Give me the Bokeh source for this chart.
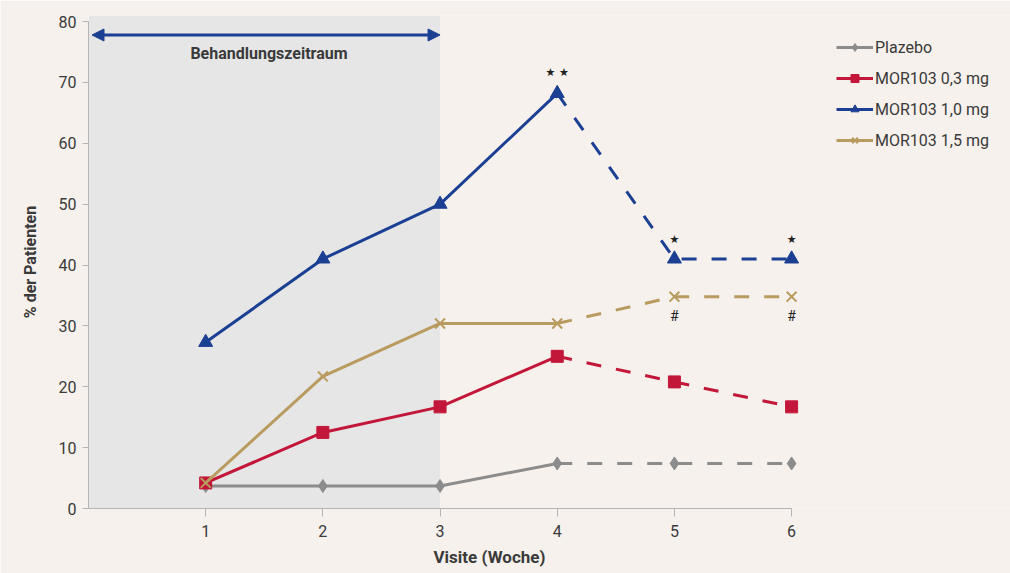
from bokeh.plotting import figure
from bokeh.models import (Range1d, BoxAnnotation, Arrow, NormalHead, Label, Legend,
                          LegendItem, FixedTicker, Title)
from bokeh.core.properties import value
from bokeh.embed import file_html
from bokeh.resources import INLINE

# ---- data ----
visits = [1, 2, 3, 4, 5, 6]
placebo = [3.7, 3.7, 3.7, 7.4, 7.4, 7.4]
mor_03 = [4.2, 12.5, 16.7, 25.0, 20.8, 16.7]
mor_10 = [27.3, 41.0, 50.0, 68.2, 41.0, 41.0]
mor_15 = [4.2, 21.7, 30.4, 30.4, 34.8, 34.8]
series_names = ["Plazebo", "MOR103 0,3 mg", "MOR103 1,0 mg", "MOR103 1,5 mg"]
treatment_start = 0
treatment_end = 3
treatment_label = "Behandlungszeitraum"
y_ticks = [0, 10, 20, 30, 40, 50, 60, 70, 80]
x_ticks = [1, 2, 3, 4, 5, 6]
star_x = [4, 5, 6]
star_y = [71.6, 44.2, 44.2]
star_text = ["★ ★", "★", "★"]
hash_x = [5, 6]
hash_y = [31.6, 31.6]
hash_text = ["#", "#"]

FONT = "Roboto"
BG = "#f6f1ec"
TXT = "#3a3a3a"

p = figure(width=1010, height=573, x_range=Range1d(0, 7.868), y_range=Range1d(0, 81),
           output_backend="svg", toolbar_location=None,
           min_border_left=88, min_border_right=0, min_border_top=15, min_border_bottom=65)
p.background_fill_color = BG
p.border_fill_color = BG
p.outline_line_color = None
p.xgrid.visible = False
p.ygrid.visible = False

# shaded treatment period
p.add_layout(BoxAnnotation(left=treatment_start, right=treatment_end, bottom=0, top=81,
                           fill_color="#e6e6e6", fill_alpha=1.0, line_color=None, level="underlay"))

# axes
for ax in p.yaxis:
    ax.bounds = (0, 80)
    ax.ticker = FixedTicker(ticks=y_ticks)
    ax.axis_line_color = "#b5b5b5"
    ax.major_tick_line_color = "#b5b5b5"
    ax.major_tick_out = 6
    ax.major_tick_in = 0
    ax.minor_tick_line_color = None
    ax.major_label_text_font = FONT
    ax.major_label_text_font_size = "16px"
    ax.major_label_text_color = TXT
    ax.major_label_standoff = 6
    ax.axis_label = "% der Patienten"
    ax.axis_label_text_font = FONT
    ax.axis_label_text_font_size = "16px"
    ax.axis_label_text_font_style = "bold"
    ax.axis_label_text_color = TXT
    ax.axis_label_standoff = 16

for ax in p.xaxis:
    ax.bounds = (0, 6)
    ax.ticker = FixedTicker(ticks=x_ticks)
    ax.axis_line_color = "#b5b5b5"
    ax.major_tick_line_color = "#b5b5b5"
    ax.major_tick_out = 8
    ax.major_tick_in = 0
    ax.minor_tick_line_color = None
    ax.major_label_text_font = FONT
    ax.major_label_text_font_size = "16px"
    ax.major_label_text_color = TXT
    ax.major_label_standoff = 8

# x axis label (as a left-aligned title below, offset to sit where the reference has it)
p.add_layout(Title(text="Visite (Woche)", align="left", offset=345, text_font=FONT,
                   text_font_size="17px", text_font_style="bold", text_color=TXT,
                   standoff=10), "below")

# series
styles = [
    (placebo, "#8c8c8c", "diamond", 13),
    (mor_03, "#c3173a", "square", 12),
    (mor_10, "#1b3f93", "triangle", 14),
    (mor_15, "#b99b5f", "x", 14),
]
items = []
for name, (vals, col, marker, size) in zip(series_names, styles):
    solid = p.line(visits[:4], vals[:4], line_color=col, line_width=3)
    dashed = p.line(visits[3:], vals[3:], line_color=col, line_width=3, line_dash="15 15")
    sc = p.scatter(visits, vals, marker=marker, size=size, fill_color=col, line_color=col,
                   line_width=2 if marker == "x" else 1)
    items.append(LegendItem(label=name, renderers=[solid, sc]))

legend = Legend(items=items, location=(748, 358), orientation="vertical",
                label_text_font=FONT, label_text_font_size="16px", label_text_color=TXT,
                glyph_width=37, glyph_height=20, label_height=20, spacing=11,
                padding=0, margin=0, border_line_color=None, background_fill_alpha=0,
                label_standoff=2)
p.add_layout(legend)

# treatment period arrow
head = dict(size=12, fill_color="#1b3f93", line_color="#1b3f93")
p.add_layout(Arrow(x_start=0.03, y_start=77.8, x_end=treatment_end, y_end=77.8,
                   line_color="#1b3f93", line_width=3,
                   start=NormalHead(**head), end=NormalHead(**head)))
p.add_layout(Label(x=1.54, y=74.8, text=treatment_label, text_align="center",
                   text_baseline="middle", text_font=FONT, text_font_size="16px",
                   text_font_style="bold", text_color=TXT))

# significance markers
p.text(star_x, star_y, text=star_text, text_align="center", text_baseline="middle",
       text_font=value("DejaVu Sans"), text_font_size="11px", text_color="#222222")
p.text(hash_x, hash_y, text=hash_text, text_align="center", text_baseline="middle",
       text_font=value(FONT), text_font_size="14px", text_color="#222222")

html = file_html(p, INLINE)
open("out.html", "w").write(html)
